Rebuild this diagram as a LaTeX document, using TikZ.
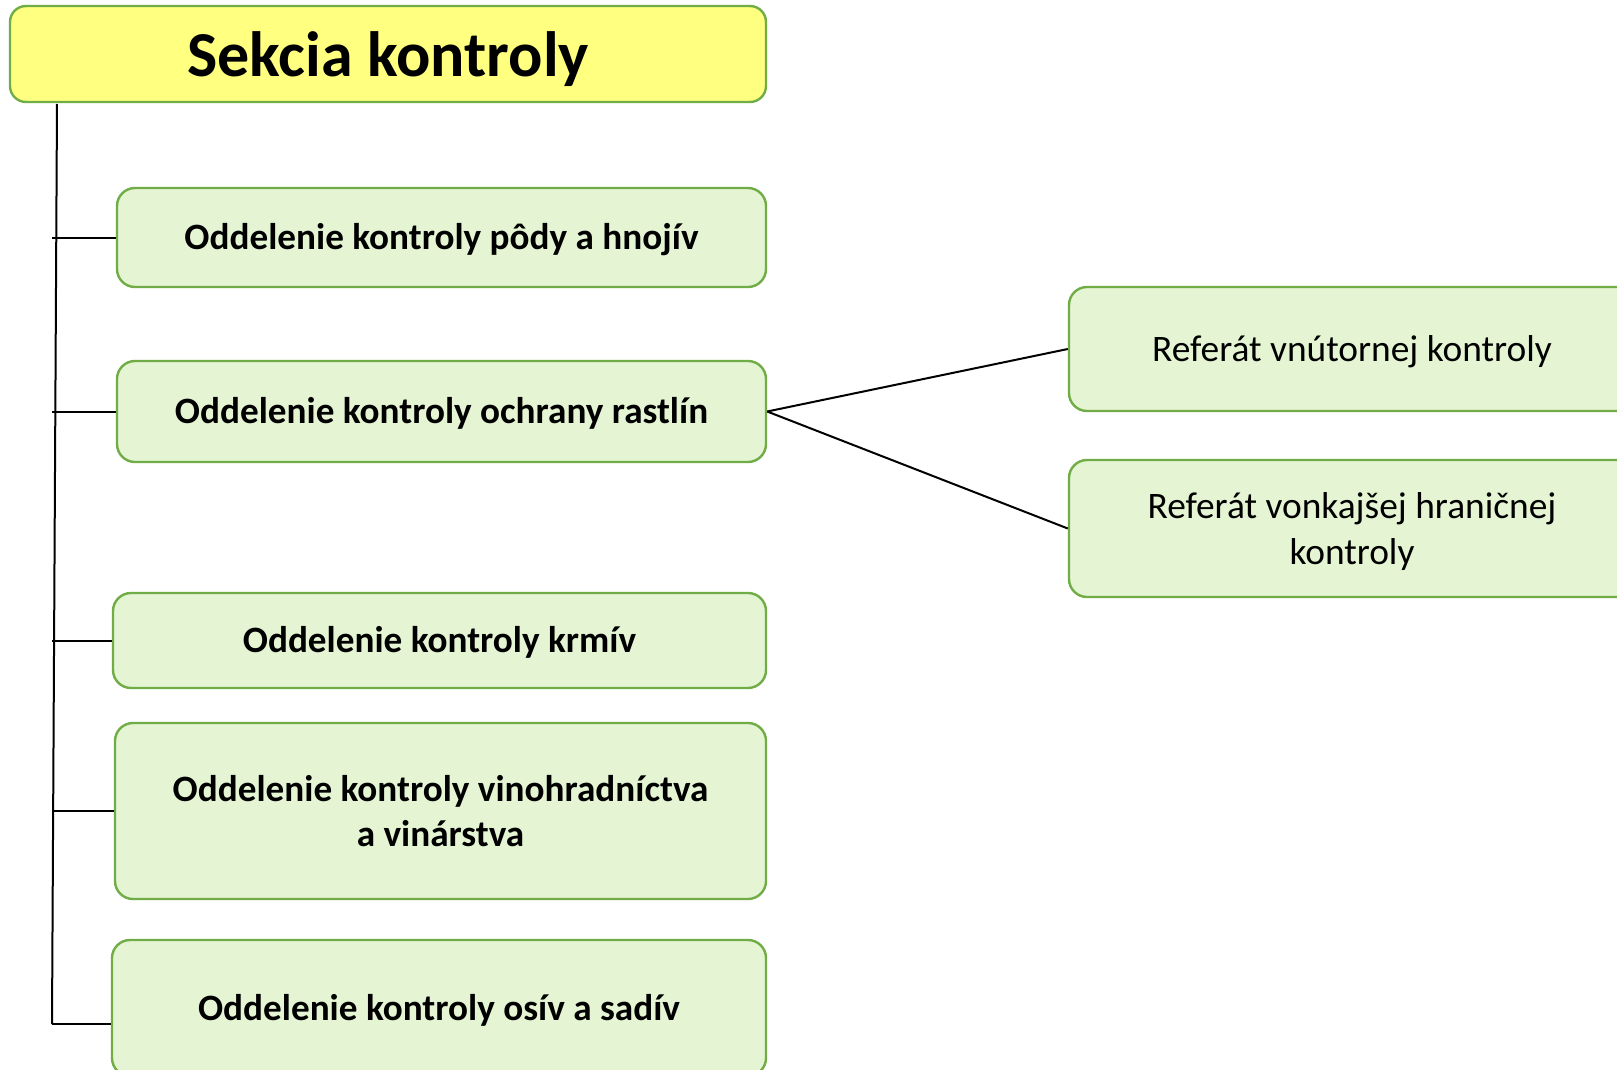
\documentclass[tikz,border=0pt]{standalone}
\usepackage{fontspec}
\setmainfont{Carlito}
\definecolor{boxline}{HTML}{70AD47}
\definecolor{headfill}{HTML}{FFFF80}
\definecolor{unitfill}{HTML}{E5F5D3}
% lower a line of text without changing the box size
\newcommand{\lowerby}[2]{\raisebox{-#1}[\height][\depth]{#2}}
\tikzset{
  head/.style={draw=boxline,fill=headfill,line width=1.2pt,rounded corners=8pt,inner sep=0pt,
    minimum width=378pt,minimum height=48pt,font=\fontsize{32}{38}\selectfont\bfseries},
  unit/.style={draw=boxline,fill=unitfill,line width=1.2pt,rounded corners=9pt,inner sep=0pt,
    align=center,font=\fontsize{18.6}{22.3}\selectfont\bfseries},
  refer/.style={unit,font=\fontsize{18.7}{22.6}\selectfont}
}
\begin{document}
\begin{tikzpicture}[x=0.5pt,y=-0.5pt,line width=1pt]
\useasboundingbox (0,0) rectangle (1617,1070);
\node[head] (S) at (388,54) {\lowerby{2.6pt}{Sekcia kontroly}};
\node[unit,minimum width=324.5pt,minimum height=49.5pt] (O1) at (441.5,237.5) {\lowerby{1pt}{Oddelenie kontroly pôdy a hnojív}};
\node[unit,minimum width=324.5pt,minimum height=50.5pt] (O2) at (441.5,411.5) {\lowerby{1pt}{Oddelenie kontroly ochrany rastlín}};
\node[unit,minimum width=326.5pt,minimum height=47.5pt] (O3) at (439.5,640.5) {\lowerby{1pt}{Oddelenie kontroly krmív}};
\node[unit,minimum width=325.5pt,minimum height=88pt] (O4) at (440.5,811) {Oddelenie kontroly vinohradníctva\\a vinárstva};
\node[unit,minimum width=327pt,minimum height=68pt] (O5) at (439,1008) {\lowerby{1pt}{Oddelenie kontroly osív a sadív}};
\node[refer,minimum width=283pt,minimum height=62pt] (R1) at (1352,349) {\lowerby{1.5pt}{Referát vnútornej kontroly}};
\node[refer,minimum width=283pt,minimum height=68.5pt] (R2) at (1352,528.5) {\lowerby{1.5pt}{Referát vonkajšej hraničnej}\\\lowerby{1.5pt}{kontroly}};

\coordinate (top) at (57,104);
\coordinate (bot) at (52,1024);
\draw (top)--(bot);
\draw (O1.west)--(O1.west -| bot);
\draw (O2.west)--(O2.west -| bot);
\draw (O3.west)--(O3.west -| bot);
\draw (O4.west)--(O4.west -| bot);
\draw (bot)--(bot -| O5.west);
\draw (O2.east)--(R1.west) (O2.east)--(R2.west);
\end{tikzpicture}
\end{document}
